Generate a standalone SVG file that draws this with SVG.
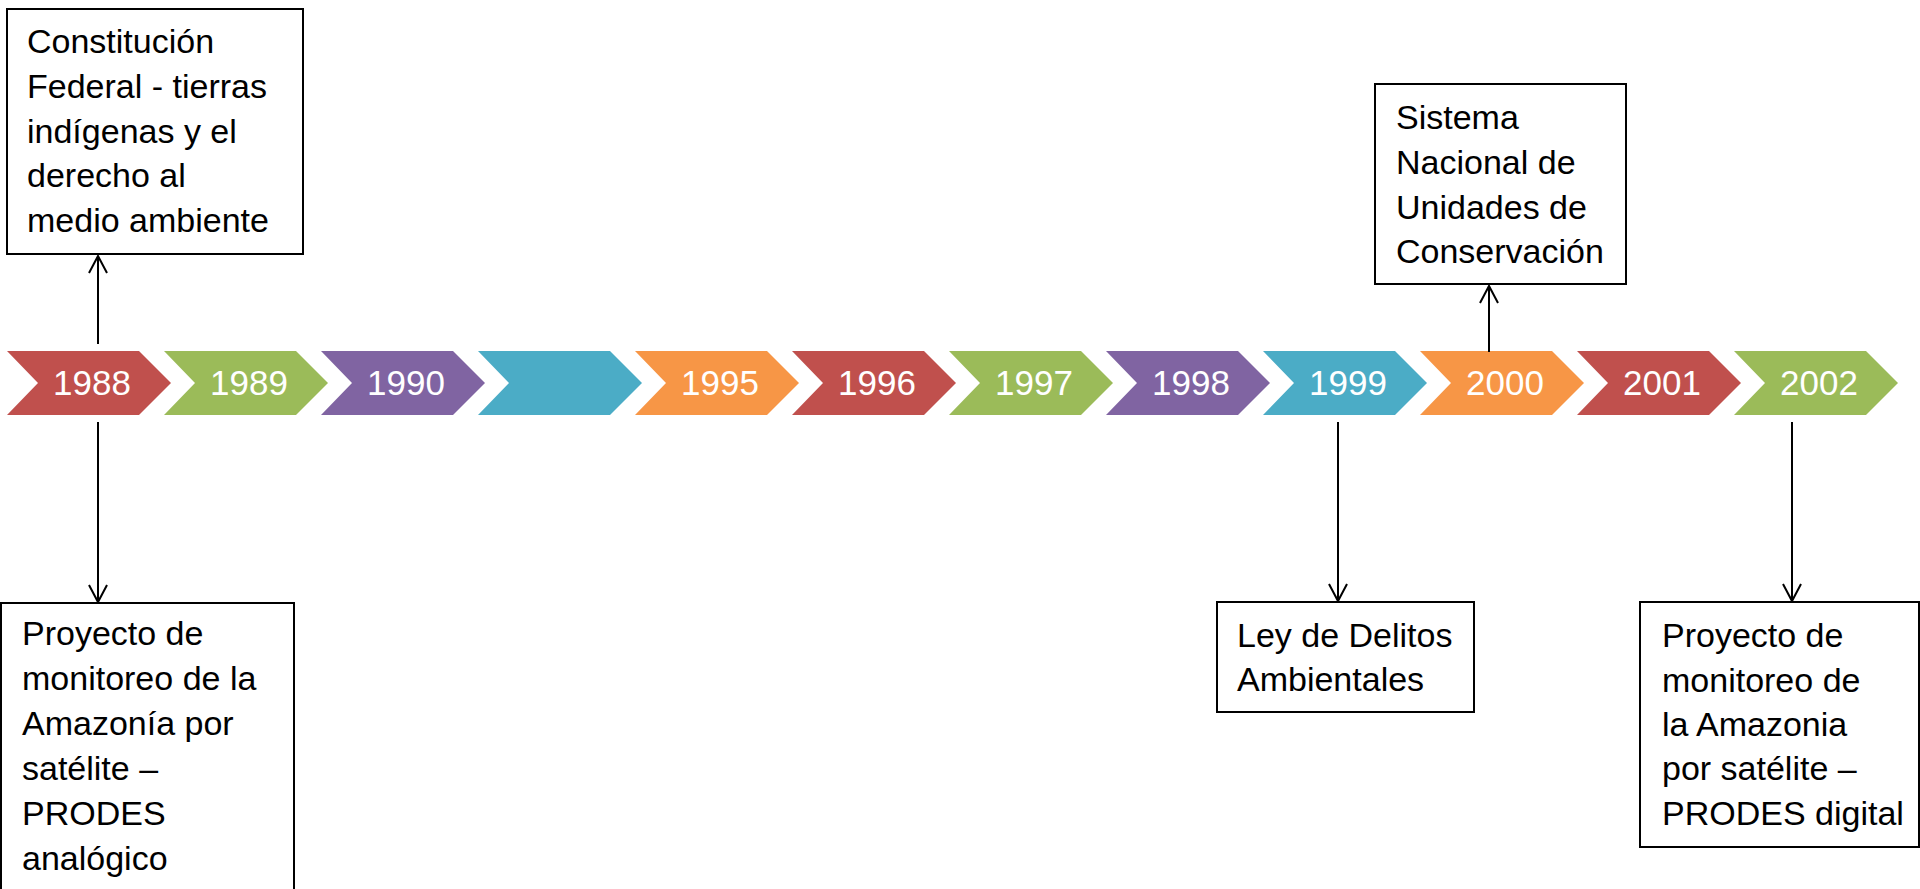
<svg xmlns="http://www.w3.org/2000/svg" width="1920" height="889" viewBox="0 0 1920 889">
<style>
.chev text{font-family:"Liberation Sans",Arial,sans-serif;font-size:35px;fill:#fff;text-anchor:middle}
.box rect{fill:#fff;stroke:#000;stroke-width:2}
.box text{font-family:"Liberation Sans",Arial,sans-serif;font-size:34px;fill:#000}
.conn line{stroke:#000;stroke-width:2;fill:none}
.red{fill:#C0504D}.green{fill:#9BBB59}.purple{fill:#8064A2}.cyan{fill:#4BACC6}.orange{fill:#F79646}
</style>
<defs>
<path id="chev" d="M0,0 H132 L164,32 L132,64 H0 L31,32 Z"/>
<marker id="arr" markerUnits="userSpaceOnUse" markerWidth="24" markerHeight="24" refX="18" refY="10" orient="auto" viewBox="0 0 24 20">
<path d="M1,1 L18,10 L1,19" fill="none" stroke="#000" stroke-width="2"/>
</marker>
</defs>
<rect width="1920" height="889" fill="#fff"/>
<g id="timeline">
<g class="chev" id="y1988" transform="translate(7,351)"><use href="#chev" class="red"/><text x="85" y="44">1988</text></g>
<g class="chev" id="y1989" transform="translate(164,351)"><use href="#chev" class="green"/><text x="85" y="44">1989</text></g>
<g class="chev" id="y1990" transform="translate(321,351)"><use href="#chev" class="purple"/><text x="85" y="44">1990</text></g>
<g class="chev" id="yblank" transform="translate(478,351)"><use href="#chev" class="cyan"/></g>
<g class="chev" id="y1995" transform="translate(635,351)"><use href="#chev" class="orange"/><text x="85" y="44">1995</text></g>
<g class="chev" id="y1996" transform="translate(792,351)"><use href="#chev" class="red"/><text x="85" y="44">1996</text></g>
<g class="chev" id="y1997" transform="translate(949,351)"><use href="#chev" class="green"/><text x="85" y="44">1997</text></g>
<g class="chev" id="y1998" transform="translate(1106,351)"><use href="#chev" class="purple"/><text x="85" y="44">1998</text></g>
<g class="chev" id="y1999" transform="translate(1263,351)"><use href="#chev" class="cyan"/><text x="85" y="44">1999</text></g>
<g class="chev" id="y2000" transform="translate(1420,351)"><use href="#chev" class="orange"/><text x="85" y="44">2000</text></g>
<g class="chev" id="y2001" transform="translate(1577,351)"><use href="#chev" class="red"/><text x="85" y="44">2001</text></g>
<g class="chev" id="y2002" transform="translate(1734,351)"><use href="#chev" class="green"/><text x="85" y="44">2002</text></g>
</g>
<g id="connectors" class="conn">
<line x1="98" y1="344" x2="98" y2="256" marker-end="url(#arr)"/>
<line x1="98" y1="422" x2="98" y2="602" marker-end="url(#arr)"/>
<line x1="1489" y1="352" x2="1489" y2="286" marker-end="url(#arr)"/>
<line x1="1338" y1="422" x2="1338" y2="601" marker-end="url(#arr)"/>
<line x1="1792" y1="422" x2="1792" y2="601" marker-end="url(#arr)"/>
</g>
<g id="box-constitucion" class="box">
<rect x="7" y="9" width="296" height="245"/>
<text x="27" y="53">Constitución</text>
<text x="27" y="98">Federal - tierras</text>
<text x="27" y="143">indígenas y el</text>
<text x="27" y="187">derecho al</text>
<text x="27" y="232">medio ambiente</text>
</g>
<g id="box-prodes-analogico" class="box">
<rect x="1" y="603" width="293" height="300"/>
<text x="22" y="645">Proyecto de</text>
<text x="22" y="690">monitoreo de la</text>
<text x="22" y="735">Amazonía por</text>
<text x="22" y="780">satélite –</text>
<text x="22" y="825">PRODES</text>
<text x="22" y="870">analógico</text>
</g>
<g id="box-snuc" class="box">
<rect x="1375" y="84" width="251" height="200"/>
<text x="1396" y="129">Sistema</text>
<text x="1396" y="174">Nacional de</text>
<text x="1396" y="219">Unidades de</text>
<text x="1396" y="263">Conservación</text>
</g>
<g id="box-ley" class="box">
<rect x="1217" y="602" width="257" height="110"/>
<text x="1237" y="647">Ley de Delitos</text>
<text x="1237" y="691">Ambientales</text>
</g>
<g id="box-prodes-digital" class="box">
<rect x="1640" y="602" width="279" height="245"/>
<text x="1662" y="647">Proyecto de</text>
<text x="1662" y="692">monitoreo de</text>
<text x="1662" y="736">la Amazonia</text>
<text x="1662" y="780">por satélite –</text>
<text x="1662" y="825">PRODES digital</text>
</g>
</svg>
